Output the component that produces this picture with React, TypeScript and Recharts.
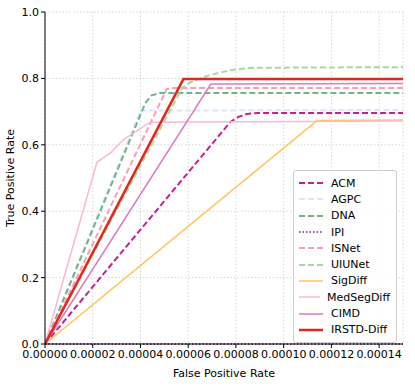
import React from "react";
import { LineChart, Line, XAxis, YAxis, CartesianGrid, Legend } from "recharts";

const xTicks = [0, 0.00002, 0.00004, 0.00006, 0.00008, 0.0001, 0.00012, 0.00014];
const yTicks = [0, 0.2, 0.4, 0.6, 0.8, 1.0];

const acm = [
  { x: 0, y: 0 }, { x: 0.0000777, y: 0.669 }, { x: 0.000081, y: 0.684 },
  { x: 0.0000845, y: 0.693 }, { x: 0.000089, y: 0.696 }, { x: 0.00015, y: 0.696 },
];
const agpc = [{ x: 0, y: 0 }, { x: 0.00004, y: 0.703 }, { x: 0.00015, y: 0.705 }];
const dna = [
  { x: 0, y: 0 }, { x: 0.000042, y: 0.725 }, { x: 0.0000445, y: 0.748 },
  { x: 0.000048, y: 0.756 }, { x: 0.00015, y: 0.756 },
];
const ipi = [{ x: 0, y: 0 }, { x: 0.00015, y: 0 }];
const isnet = [{ x: 0, y: 0 }, { x: 0.000051, y: 0.768 }, { x: 0.000054, y: 0.771 }, { x: 0.00015, y: 0.771 }];
const uiunet = [
  { x: 0, y: 0 }, { x: 0.0000575, y: 0.772 }, { x: 0.0000605, y: 0.787 },
  { x: 0.000069, y: 0.81 }, { x: 0.000078, y: 0.825 }, { x: 0.000087, y: 0.832 },
  { x: 0.00015, y: 0.834 },
];
const sigdiff = [{ x: 0, y: 0 }, { x: 0.000114, y: 0.673 }, { x: 0.00015, y: 0.675 }];
const medsegdiff = [
  { x: 0, y: 0 }, { x: 0.0000218, y: 0.548 }, { x: 0.0000273, y: 0.575 },
  { x: 0.0000328, y: 0.615 }, { x: 0.000044, y: 0.668 }, { x: 0.00015, y: 0.672 },
];
const cimd = [{ x: 0, y: 0 }, { x: 0.0000695, y: 0.783 }, { x: 0.00015, y: 0.785 }];
const irstd = [{ x: 0, y: 0 }, { x: 0.000058, y: 0.798 }, { x: 0.00015, y: 0.798 }];

const series = [
  { name: "ACM", data: acm, color: "#c71f8e", dash: "6 3", w: 2 },
  { name: "AGPC", data: agpc, color: "#dae8f5", dash: "6 3", w: 2 },
  { name: "DNA", data: dna, color: "#74b384", dash: "6 3", w: 2 },
  { name: "IPI", data: ipi, color: "#7a1a8c", dash: "1.5 2", w: 1.5 },
  { name: "ISNet", data: isnet, color: "#f7a0b5", dash: "6 3", w: 2 },
  { name: "UIUNet", data: uiunet, color: "#a6daa0", dash: "6 3", w: 2 },
  { name: "SigDiff", data: sigdiff, color: "#fec660", dash: undefined, w: 1.5 },
  { name: "MedSegDiff", data: medsegdiff, color: "#f9b9d6", dash: undefined, w: 1.5 },
  { name: "CIMD", data: cimd, color: "#dc7ac2", dash: undefined, w: 1.5 },
  { name: "IRSTD-Diff", data: irstd, color: "#e3271f", dash: undefined, w: 2.5 },
];

const font = "DejaVu Sans, sans-serif";

const LegendBox = () => (
  <div
    style={{
      border: "1px solid #d0d0d0",
      borderRadius: 3,
      background: "rgba(255,255,255,0.85)",
      padding: "4px 6px 4px 4px",
      fontFamily: font,
      fontSize: 11,
      color: "#000",
      width: 92,
    }}
  >
    {series.map((s) => (
      <div key={s.name} style={{ display: "flex", alignItems: "center", height: 16.3 }}>
        <svg width={26} height={8} style={{ marginRight: 7 }}>
          <line x1={1} y1={4} x2={25} y2={4} stroke={s.color} strokeWidth={s.w} strokeDasharray={s.dash} />
        </svg>
        <span style={{ whiteSpace: "nowrap" }}>{s.name}</span>
      </div>
    ))}
  </div>
);

export default function App() {
  return (
    <div style={{ position: "absolute", left: 0, top: 0 }}>
      <LineChart
        width={415}
        height={386}
        margin={{ top: 12, right: 12, bottom: 0, left: 0 }}
        style={{ fontFamily: font }}
      >
        <CartesianGrid stroke="#d6d6d6" strokeDasharray="1.5 2" />
        <XAxis
          dataKey="x"
          type="number"
          domain={[0, 0.00015]}
          ticks={xTicks}
          allowDataOverflow
          height={42}
          tickFormatter={(v: number) => v.toFixed(5)}
          tick={{ fontSize: 11, fill: "#000" }}
          tickLine={{ stroke: "#000" }}
          axisLine={{ stroke: "#000" }}
          tickSize={4}
          interval={0}
          label={{ value: "False Positive Rate", position: "insideBottom", offset: 9, fontSize: 11, fill: "#000" }}
        />
        <XAxis xAxisId="top" orientation="top" type="number" domain={[0, 0.00015]} tick={false} tickLine={false} axisLine={{ stroke: "#000" }} height={0} />
        <YAxis
          type="number"
          domain={[0, 1]}
          ticks={yTicks}
          width={45}
          tickFormatter={(v: number) => v.toFixed(1)}
          tick={{ fontSize: 11, fill: "#000" }}
          tickLine={{ stroke: "#000" }}
          axisLine={{ stroke: "#000" }}
          tickSize={4}
          interval={0}
          label={{ value: "True Positive Rate", angle: -90, position: "insideLeft", offset: 10, fontSize: 11, fill: "#000", style: { textAnchor: "middle" } }}
        />
        <YAxis yAxisId="right" orientation="right" type="number" domain={[0, 1]} tick={false} tickLine={false} axisLine={{ stroke: "#000" }} width={0} />
        {series.map((s) => (
          <Line
            key={s.name}
            data={s.data}
            dataKey="y"
            name={s.name}
            type="linear"
            stroke={s.color}
            strokeWidth={s.w}
            strokeDasharray={s.dash}
            dot={false}
            activeDot={false}
            isAnimationActive={false}
          />
        ))}
        <Legend
          layout="vertical"
          align="center"
          verticalAlign="middle"
          content={() => <LegendBox />}
          wrapperStyle={{ left: 293, top: 170, width: 104 }}
        />
      </LineChart>
    </div>
  );
}
